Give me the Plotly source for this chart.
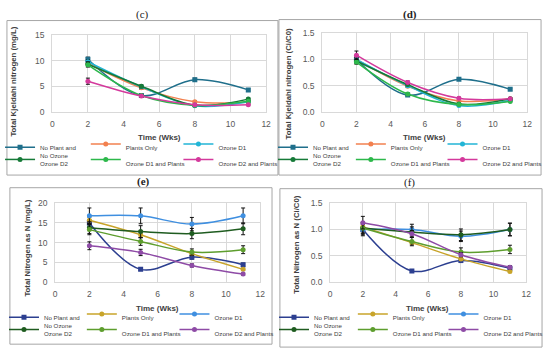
import plotly.graph_objects as go

W, H = 550, 355

# ---------------- data ----------------
weeks = [2, 5, 8, 11]
week_ticks = [0, 2, 4, 6, 8, 10, 12]
series_names = ["No Plant and No Ozone", "Plants Only", "Ozone D1",
                "Ozone D2", "Ozone D1 and Plants", "Ozone D2 and Plants"]
legend_labels = ["No Plant and<br>No Ozone", "Plants Only", "Ozone D1",
                 "Ozone D2", "Ozone D1 and Plants", "Ozone D2 and Plants"]

# (c) Total Kjeldahl nitrogen (mg/L)
tkn_no_plant = [10.3, 3.2, 6.3, 4.3]
tkn_plants_only = [9.5, 4.7, 2.0, 1.9]
tkn_ozone_d1 = [9.8, 4.9, 1.2, 2.0]
tkn_ozone_d2 = [9.3, 5.0, 1.3, 2.5]
tkn_d1_plants = [9.2, 3.2, 1.3, 2.1]
tkn_d2_plants = [6.0, 3.1, 1.4, 1.4]
tkn_err_no_plant = [0.4, 0.2, 0.3, 0.2]
tkn_err_plants_only = [0.4, 0.3, 0.2, 0.1]
tkn_err_ozone_d1 = [0.4, 0.2, 0.1, 0.1]
tkn_err_ozone_d2 = [0.5, 0.3, 0.1, 0.2]
tkn_err_d1_plants = [0.4, 0.2, 0.1, 0.1]
tkn_err_d2_plants = [0.6, 0.2, 0.1, 0.1]

# (d) Total Kjeldahl nitrogen (Ci/C0)
tknr_no_plant = [1.00, 0.32, 0.62, 0.43]
tknr_plants_only = [1.00, 0.49, 0.21, 0.25]
tknr_ozone_d1 = [1.00, 0.50, 0.12, 0.22]
tknr_ozone_d2 = [0.97, 0.52, 0.15, 0.25]
tknr_d1_plants = [0.95, 0.34, 0.14, 0.20]
tknr_d2_plants = [1.08, 0.56, 0.26, 0.25]
tknr_err_no_plant = [0.05, 0.02, 0.02, 0.02]
tknr_err_plants_only = [0.04, 0.02, 0.02, 0.01]
tknr_err_ozone_d1 = [0.04, 0.02, 0.01, 0.01]
tknr_err_ozone_d2 = [0.05, 0.02, 0.01, 0.01]
tknr_err_d1_plants = [0.04, 0.02, 0.01, 0.01]
tknr_err_d2_plants = [0.08, 0.03, 0.02, 0.02]

# (e) Total Nitrogen as N (mg/L)
tn_no_plant = [15.0, 3.2, 6.3, 4.4]
tn_plants_only = [15.7, 12.0, 7.2, 3.2]
tn_ozone_d1 = [16.8, 16.8, 14.7, 16.8]
tn_ozone_d2 = [13.8, 12.8, 12.3, 13.5]
tn_d1_plants = [13.3, 10.3, 7.6, 8.2]
tn_d2_plants = [9.2, 7.5, 4.2, 2.0]
tn_err_no_plant = [0.8, 0.3, 0.5, 0.4]
tn_err_plants_only = [0.8, 0.8, 0.5, 0.3]
tn_err_ozone_d1 = [2.0, 2.0, 1.7, 2.0]
tn_err_ozone_d2 = [1.5, 1.5, 1.3, 1.5]
tn_err_d1_plants = [1.3, 1.0, 0.8, 1.0]
tn_err_d2_plants = [1.0, 0.8, 0.4, 0.3]

# (f) Total Nitrogen as N (Ci/C0)
tnr_no_plant = [1.00, 0.21, 0.41, 0.26]
tnr_plants_only = [1.05, 0.75, 0.44, 0.20]
tnr_ozone_d1 = [1.00, 1.00, 0.87, 1.00]
tnr_ozone_d2 = [1.03, 0.95, 0.90, 1.00]
tnr_d1_plants = [1.03, 0.77, 0.57, 0.62]
tnr_d2_plants = [1.13, 0.92, 0.52, 0.28]
tnr_err_no_plant = [0.10, 0.02, 0.04, 0.03]
tnr_err_plants_only = [0.05, 0.04, 0.03, 0.02]
tnr_err_ozone_d1 = [0.12, 0.10, 0.10, 0.12]
tnr_err_ozone_d2 = [0.10, 0.10, 0.11, 0.12]
tnr_err_d1_plants = [0.10, 0.08, 0.08, 0.08]
tnr_err_d2_plants = [0.12, 0.06, 0.04, 0.03]

colors_tkn = ["#1F6F8B", "#F2804F", "#22B5D6", "#167A38", "#2DB84B", "#D4399C"]
colors_tn = ["#2C3F90", "#C8A42A", "#3F8FE0", "#1F5C20", "#5E9E2E", "#8E4BA6"]
symbols = ["square", "circle", "circle", "circle", "circle", "circle"]

# ---------------- helpers ----------------
def fx(px):
    return px / W

def fy(py):
    return 1 - py / H

panels = [
    dict(tag="(c)", bold=False, xa="x", ya="y", xkey="xaxis", ykey="yaxis",
         vals=[tkn_no_plant, tkn_plants_only, tkn_ozone_d1, tkn_ozone_d2, tkn_d1_plants, tkn_d2_plants],
         errs=[tkn_err_no_plant, tkn_err_plants_only, tkn_err_ozone_d1, tkn_err_ozone_d2, tkn_err_d1_plants, tkn_err_d2_plants],
         colors=colors_tkn, yrange=[0, 15], yticks=[0, 5, 10, 15], yfmt="d",
         ytitle="Total Kjeldahl nitrogen (mg/L)",
         plot=(50, 267, 31, 110), box=(4, 279, 16, 175), title_xy=(142, 10),
         ytitle_xy=(11, 79), xtitle_xy=(159, 136),
         leg_x=[37, 124, 218], leg_y=[147, 163]),
    dict(tag="(d)", bold=True, xa="x2", ya="y2", xkey="xaxis2", ykey="yaxis2",
         vals=[tknr_no_plant, tknr_plants_only, tknr_ozone_d1, tknr_ozone_d2, tknr_d1_plants, tknr_d2_plants],
         errs=[tknr_err_no_plant, tknr_err_plants_only, tknr_err_ozone_d1, tknr_err_ozone_d2, tknr_err_d1_plants, tknr_err_d2_plants],
         colors=colors_tkn, yrange=[0, 1.5], yticks=[0, 0.5, 1.0, 1.5], yfmt=".1f",
         ytitle="Total Kjeldahl nitrogen (Ci/C0)",
         plot=(324, 532, 29, 110), box=(280, 546, 15, 175), title_xy=(413, 10),
         ytitle_xy=(290, 81), xtitle_xy=(428, 136),
         leg_x=[314, 393, 486], leg_y=[147, 163]),
    dict(tag="(e)", bold=True, xa="x3", ya="y3", xkey="xaxis3", ykey="yaxis3",
         vals=[tn_no_plant, tn_plants_only, tn_ozone_d1, tn_ozone_d2, tn_d1_plants, tn_d2_plants],
         errs=[tn_err_no_plant, tn_err_plants_only, tn_err_ozone_d1, tn_err_ozone_d2, tn_err_d1_plants, tn_err_d2_plants],
         colors=colors_tn, yrange=[0, 20], yticks=[0, 5, 10, 15, 20], yfmt="d",
         ytitle="Total Nitrogen as N (mg/L)",
         plot=(53, 261, 204, 285), box=(7, 273, 188, 349), title_xy=(143, 182),
         ytitle_xy=(25, 250), xtitle_xy=(157, 312),
         leg_x=[41, 120, 214], leg_y=[322, 338]),
    dict(tag="(f)", bold=False, xa="x4", ya="y4", xkey="xaxis4", ykey="yaxis4",
         vals=[tnr_no_plant, tnr_plants_only, tnr_ozone_d1, tnr_ozone_d2, tnr_d1_plants, tnr_d2_plants],
         errs=[tnr_err_no_plant, tnr_err_plants_only, tnr_err_ozone_d1, tnr_err_ozone_d2, tnr_err_d1_plants, tnr_err_d2_plants],
         colors=colors_tn, yrange=[0, 1.5], yticks=[0, 0.5, 1.0, 1.5], yfmt=".1f",
         ytitle="Total Nitrogen as N (Ci/C0)",
         plot=(332, 531, 204, 285), box=(281, 547, 189, 352), title_xy=(412, 183),
         ytitle_xy=(297, 246), xtitle_xy=(431, 312),
         leg_x=[315, 395, 487], leg_y=[322, 338]),
]

LEG_FONT = dict(family="Liberation Sans, Arial, sans-serif", size=6.2, color="#404040")
GRID = "#D9D9D9"

fig = go.Figure()
layout = dict(width=W, height=H, margin=dict(l=0, r=0, t=0, b=0),
              paper_bgcolor="white", plot_bgcolor="white", showlegend=True)
annotations = []
shapes = []
legend_counter = 0

for p in panels:
    x0, x1, y0, y1 = p["plot"]
    layout[p["xkey"]] = dict(domain=[fx(x0), fx(x1)], anchor=p["ya"], range=[0, 12],
                             tickvals=week_ticks, showgrid=True, gridcolor=GRID, gridwidth=1,
                             showline=True, linecolor=GRID, mirror=True, zeroline=False,
                             ticks="", ticklabelstandoff=4,
                             tickfont=dict(family="Liberation Sans, Arial, sans-serif", size=8.5, color="#595959"),
                             fixedrange=True)
    layout[p["ykey"]] = dict(domain=[fy(y1), fy(y0)], anchor=p["xa"], range=p["yrange"],
                             tickvals=p["yticks"], tickformat=p["yfmt"], showgrid=True, gridcolor=GRID,
                             gridwidth=1, showline=True, linecolor=GRID, mirror=True, zeroline=False,
                             ticks="", ticklabelstandoff=5,
                             tickfont=dict(family="Liberation Sans, Arial, sans-serif", size=8.5, color="#595959"),
                             fixedrange=True)
    for k in range(6):
        legend_counter += 1
        lname = "legend" if legend_counter == 1 else f"legend{legend_counter}"
        fig.add_trace(go.Scatter(
            x=weeks, y=p["vals"][k], name=legend_labels[k],
            mode="lines+markers", xaxis=p["xa"], yaxis=p["ya"],
            line=dict(color=p["colors"][k], width=1.5, shape="spline", smoothing=1.0),
            marker=dict(color=p["colors"][k], size=5, symbol=symbols[k]),
            error_y=dict(type="data", array=p["errs"][k], visible=True,
                         color="#111111", thickness=1, width=2),
            legend=lname, showlegend=True,
        ))
        col, row = k % 3, k // 3
        ycen = p["leg_y"][row] + (4 if k == 0 else 0)
        layout[lname] = dict(x=fx(p["leg_x"][col] - 40), y=fy(ycen), xanchor="left",
                             yanchor="middle", orientation="v", bgcolor="rgba(0,0,0,0)",
                             borderwidth=0, font=LEG_FONT, valign="top",
                             itemclick=False, itemdoubleclick=False)
    # panel box
    bx0, bx1, by0, by1 = p["box"]
    shapes.append(dict(type="rect", xref="paper", yref="paper",
                       x0=fx(bx0), x1=fx(bx1), y0=fy(by1), y1=fy(by0),
                       line=dict(color="#A6A6A6", width=1), fillcolor="rgba(0,0,0,0)", layer="below"))
    # titles
    tx, ty = p["title_xy"]
    annotations.append(dict(text=("<b>%s</b>" % p["tag"]) if p["bold"] else p["tag"],
                            x=fx(tx), y=fy(ty), xref="paper", yref="paper", showarrow=False,
                            xanchor="center", yanchor="middle",
                            font=dict(family="Liberation Serif, Times New Roman, serif", size=11, color="#222222")))
    ytx, yty = p["ytitle_xy"]
    annotations.append(dict(text="<b>%s</b>" % p["ytitle"], x=fx(ytx), y=fy(yty), xref="paper", yref="paper",
                            showarrow=False, textangle=-90, xanchor="center", yanchor="middle",
                            font=dict(family="Liberation Sans, Arial, sans-serif", size=7.8, color="#404040")))
    xtx, xty = p["xtitle_xy"]
    annotations.append(dict(text="<b>Time (Wks)</b>", x=fx(xtx), y=fy(xty), xref="paper", yref="paper",
                            showarrow=False, xanchor="center", yanchor="middle",
                            font=dict(family="Liberation Sans, Arial, sans-serif", size=8, color="#404040")))

layout["annotations"] = annotations
layout["shapes"] = shapes
fig.update_layout(**layout)
fig.write_html("out.html", config={"displayModeBar": False},
               post_script="document.body.style.margin='0';")
